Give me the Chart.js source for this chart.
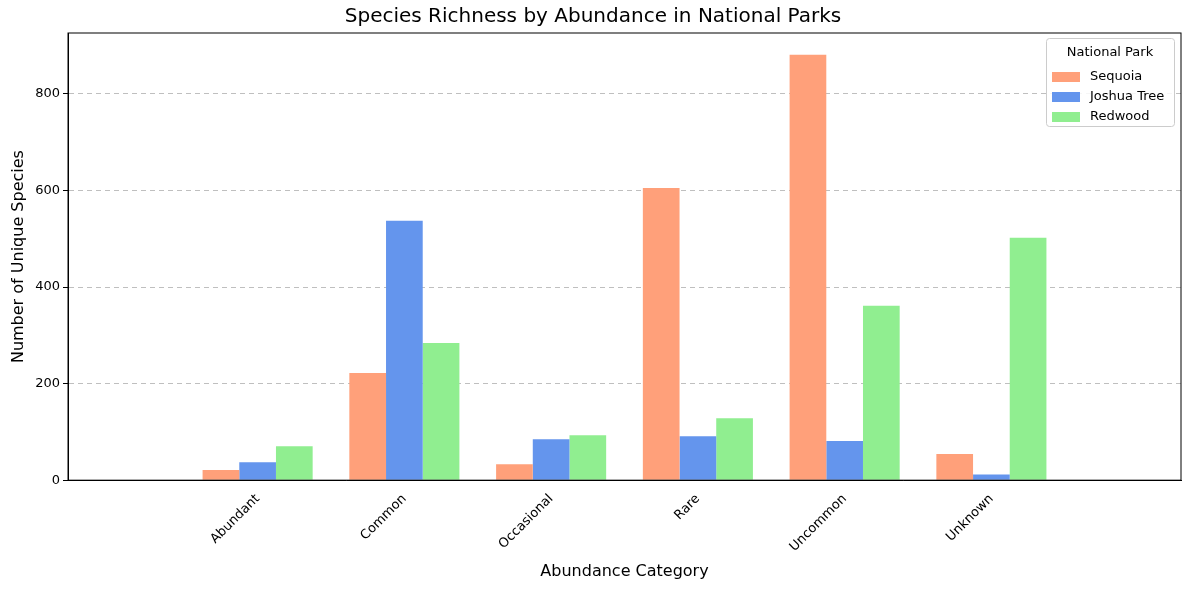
<!DOCTYPE html>
<html>
<head>
<meta charset="utf-8">
<script src="https://cdn.jsdelivr.net/npm/chart.js@4/dist/chart.umd.min.js"></script>
<style>
  body { margin: 0; background: #fff; }
  #wrap { width: 1189px; height: 590px; }
</style>
</head>
<body>
<div id="wrap"><canvas id="chart"></canvas></div>
<script>
const categories = ['Abundant', 'Common', 'Occasional', 'Rare', 'Uncommon', 'Unknown'];
const parks = ['Sequoia', 'Joshua Tree', 'Redwood'];
const sequoia = [21, 222, 33, 605, 881, 54];
const joshuaTree = [37, 537, 85, 91, 81, 12];
const redwood = [70, 284, 93, 128, 361, 502];
const colors = ['#FFA07A', '#6495ED', '#90EE90'];
const yTicks = [0, 200, 400, 600, 800];

// legend drawn inside the plot, top right, like matplotlib
const innerLegend = {
    id: 'innerLegend',
    afterDraw(chart) {
        const ctx = chart.ctx;
        const area = chart.chartArea;
        const w = 128, h = 88;
        const x = area.right - w - 7, y = area.top + 5;
        ctx.save();
        ctx.fillStyle = 'rgba(255,255,255,0.85)';
        ctx.strokeStyle = '#cccccc';
        ctx.lineWidth = 1;
        ctx.beginPath();
        ctx.roundRect(x + 0.5, y + 0.5, w, h, 3);
        ctx.fill();
        ctx.stroke();
        ctx.fillStyle = '#000';
        ctx.font = '13px "DejaVu Sans"';
        ctx.textAlign = 'center';
        ctx.textBaseline = 'middle';
        ctx.fillText('National Park', x + w / 2, y + 15);
        ctx.textAlign = 'left';
        parks.forEach((p, i) => {
            const ly = y + 39 + i * 20;
            ctx.fillStyle = colors[i];
            ctx.fillRect(x + 6, ly - 5, 28, 10);
            ctx.fillStyle = '#000';
            ctx.fillText(p, x + 44, ly);
        });
        ctx.restore();
    }
};

const seriesValues = [sequoia, joshuaTree, redwood];

new Chart(document.getElementById('chart'), {
    type: 'bar',
    data: {
        datasets: parks.map((p, i) => ({
            label: p,
            data: seriesValues[i].map((v, j) => ({ x: j, y: v })),
            backgroundColor: colors[i],
            categoryPercentage: 0.75,
            barPercentage: 1.0
        }))
    },
    options: {
        responsive: true,
        maintainAspectRatio: false,
        animation: false,
        layout: { padding: { left: 5, right: 8, top: 3, bottom: 5 } },
        plugins: {
            legend: { display: false },
            title: {
                display: true,
                text: 'Species Richness by Abundance in National Parks',
                font: { family: 'DejaVu Sans', size: 20, weight: 'normal' },
                color: '#000',
                padding: { top: 2, bottom: 4 }
            },
            tooltip: { enabled: false }
        },
        scales: {
            x: {
                type: 'linear',
                min: -0.66,
                max: 5.66,
                afterBuildTicks(axis) { axis.ticks = categories.map((c, j) => ({ value: j })); },
                grid: { display: false, drawTicks: true },
                border: { color: '#000' },
                ticks: {
                    color: '#000',
                    font: { family: 'DejaVu Sans', size: 13 },
                    maxRotation: 45,
                    minRotation: 45,
                    callback: v => categories[v]
                },
                title: {
                    display: true,
                    text: 'Abundance Category',
                    color: '#000',
                    font: { family: 'DejaVu Sans', size: 16 }
                }
            },
            y: {
                min: 0,
                max: 926,
                afterBuildTicks(axis) { axis.ticks = yTicks.map(v => ({ value: v })); },
                grid: {
                    color: 'rgba(0,0,0,0.25)',
                    drawTicks: true,
                    tickColor: '#000',
                    tickLength: 5
                },
                border: { color: '#000', dash: [5, 4] },
                ticks: {
                    color: '#000',
                    font: { family: 'DejaVu Sans', size: 13 }
                },
                title: {
                    display: true,
                    text: 'Number of Unique Species',
                    color: '#000',
                    font: { family: 'DejaVu Sans', size: 16 }
                }
            }
        }
    },
    plugins: [innerLegend, {
        id: 'frame',
        afterDraw(chart) {
            const a = chart.chartArea, ctx = chart.ctx;
            ctx.save();
            ctx.strokeStyle = '#000';
            ctx.lineWidth = 1;
            ctx.strokeRect(a.left, a.top, a.right - a.left, a.bottom - a.top);
            ctx.restore();
        }
    }]
});
</script>
</body>
</html>
